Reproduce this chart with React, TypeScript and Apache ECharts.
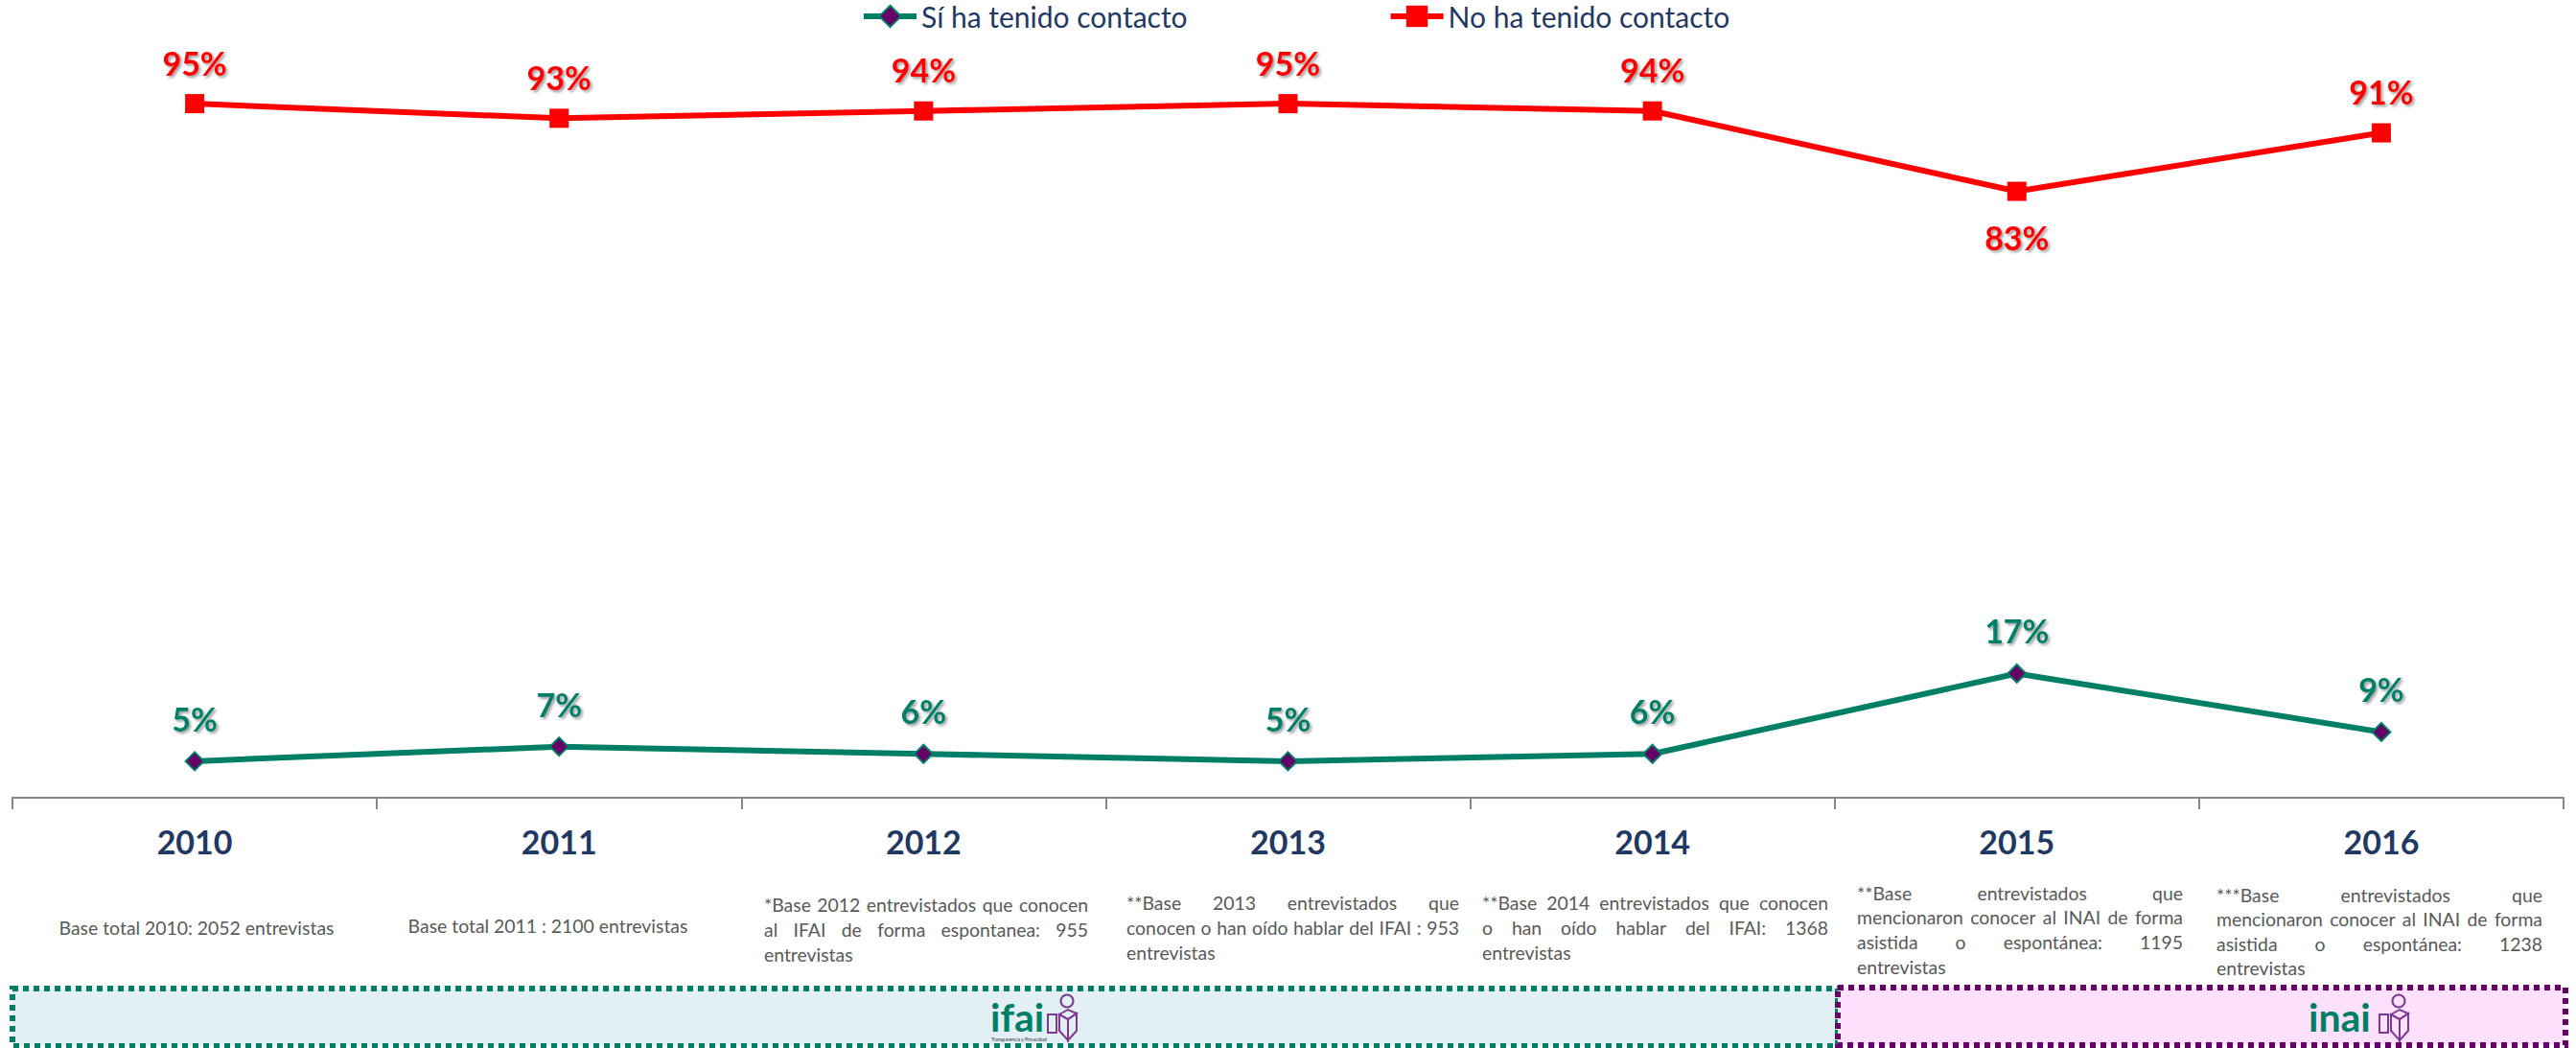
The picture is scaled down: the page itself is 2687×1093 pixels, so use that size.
import React, { useEffect, useRef } from "react";
import * as echarts from "echarts";

const years = ["2010", "2011", "2012", "2013", "2014", "2015", "2016"];
const siContacto = [5, 7, 6, 5, 6, 17, 9];
const noContacto = [95, 93, 94, 95, 94, 83, 91];
const noLabelPos = ["top", "top", "top", "top", "top", "bottom", "top"];
const notes: string[][] = [
  ["Base total 2010: 2052 entrevistas"],
  ["Base total 2011 : 2100 entrevistas"],
  ["*Base 2012 entrevistados que conocen", "al IFAI de forma espontanea: 955", "entrevistas"],
  ["**Base 2013 entrevistados que", "conocen o han oído hablar del IFAI : 953", "entrevistas"],
  ["**Base 2014 entrevistados que conocen", "o han oído hablar del IFAI: 1368", "entrevistas"],
  ["**Base entrevistados que", "mencionaron conocer al INAI de forma", "asistida o espontánea: 1195", "entrevistas"],
  ["***Base entrevistados que", "mencionaron conocer al INAI de forma", "asistida o espontánea: 1238", "entrevistas"],
];
const noteFrames = [
  { x: 62, w: 286, y: 967, center: true, lh: 26 },
  { x: 426, w: 291, y: 965, center: true, lh: 26 },
  { x: 797, w: 338, y: 943, center: false, lh: 26 },
  { x: 1175, w: 347, y: 941, center: false, lh: 26 },
  { x: 1546, w: 361, y: 941, center: false, lh: 26 },
  { x: 1937, w: 340, y: 931, center: false, lh: 25.7 },
  { x: 2312, w: 340, y: 933, center: false, lh: 25.5 },
];

const NOTE_FONT = "19.4px Lato";
const NOTE_COLOR = "#595959";
const TEAL = "#007F66";
const PURPLE = "#660066";
const LOGO = "#7B3A8F";

function measure(t: string) {
  const c = document.createElement("canvas").getContext("2d")!;
  c.font = NOTE_FONT;
  return c.measureText(t).width;
}

function noteGraphics() {
  const out: any[] = [];
  notes.forEach((lines, i) => {
    const f = noteFrames[i];
    lines.forEach((line, j) => {
      const y = f.y + j * f.lh;
      const style = { font: NOTE_FONT, fill: NOTE_COLOR, textVerticalAlign: "middle" };
      if (f.center) {
        out.push({ type: "text", x: f.x + f.w / 2, y, style: { ...style, text: line, textAlign: "center" } });
        return;
      }
      const words = line.split(" ");
      if (j === lines.length - 1 || words.length === 1) {
        out.push({ type: "text", x: f.x, y, style: { ...style, text: line, textAlign: "left" } });
        return;
      }
      const total = words.reduce((s, w) => s + measure(w), 0);
      const gap = (f.w - total) / (words.length - 1);
      let x = f.x;
      words.forEach((w) => {
        out.push({ type: "text", x, y, style: { ...style, text: w, textAlign: "left" } });
        x += measure(w) + gap;
      });
    });
  });
  return out;
}

function person(x: number, y: number) {
  const st = { stroke: LOGO, fill: "none", lineWidth: 2 };
  return [
    { type: "circle", shape: { cx: x + 20, cy: y + 7, r: 6.5 }, style: st },
    { type: "polygon", shape: { points: [[x + 12, y + 21], [x + 21, y + 16], [x + 30, y + 20], [x + 21, y + 26]] }, style: st },
    { type: "polygon", shape: { points: [[x + 21, y + 26], [x + 30, y + 20], [x + 30, y + 38], [x + 21, y + 48]] }, style: st },
    { type: "polygon", shape: { points: [[x + 12, y + 21], [x + 21, y + 26], [x + 21, y + 48], [x + 12, y + 38]] }, style: st },
    { type: "polygon", shape: { points: [[x, y + 21], [x + 9, y + 21], [x + 9, y + 40], [x, y + 40]] }, style: st },
  ];
}

const zones = [
  { x: 13, y: 1031, w: 1904, h: 60, fill: "#E2EFF5", stroke: TEAL },
  { x: 1917, y: 1030, w: 759, h: 60, fill: "#FCE0FC", stroke: PURPLE },
];

export default function App() {
  const ref = useRef<HTMLDivElement>(null);
  useEffect(() => {
    const chart = echarts.init(ref.current!, undefined, { renderer: "svg" });
    const labelFont = { fontFamily: "Lato", fontWeight: "bold" as const, fontSize: 34, textShadowColor: "rgba(0,0,0,0.4)", textShadowBlur: 3, textShadowOffsetX: 2, textShadowOffsetY: 2 };
    chart.setOption({
      animation: false,
      backgroundColor: "#fff",
      legend: {
        top: -3,
        left: 893,
        itemGap: 209,
        itemWidth: 55,
        itemHeight: 28,
        lineStyle: { width: 6 },
        textStyle: { fontFamily: "Lato", fontSize: 30, color: "#1F3864" },
        data: ["Sí ha tenido contacto", "No ha tenido contacto"],
      },
      grid: { left: 13, right: 13, top: 70, bottom: 261, containLabel: false },
      xAxis: {
        type: "category",
        data: years,
        boundaryGap: true,
        axisLine: { lineStyle: { color: "#868686", width: 2 } },
        axisTick: { show: true, length: 12, alignWithLabel: false, lineStyle: { color: "#868686", width: 2 } },
        axisLabel: { margin: 28, fontFamily: "Lato", fontWeight: "bold", fontSize: 34, color: "#1F3864" },
      },
      yAxis: { type: "value", min: 0, max: 100, show: false, splitLine: { show: false } },
      series: [
        {
          name: "Sí ha tenido contacto",
          type: "line",
          data: siContacto,
          symbol: "diamond",
          symbolSize: 19,
          itemStyle: { color: PURPLE, borderColor: TEAL, borderWidth: 2 },
          lineStyle: { color: TEAL, width: 6 },
          label: { show: true, position: "top", distance: 17, color: TEAL, formatter: "{c}%", ...labelFont },
        },
        {
          name: "No ha tenido contacto",
          type: "line",
          data: noContacto.map((v, i) => ({ value: v, label: { position: noLabelPos[i], distance: noLabelPos[i] === "top" ? 16 : 21 } })),
          symbol: "rect",
          symbolSize: 20,
          itemStyle: { color: "#FF0000" },
          lineStyle: { color: "#FF0000", width: 6 },
          label: { show: true, color: "#FF0000", formatter: "{c}%", ...labelFont },
        },
      ],
      graphic: [
        ...zones.map((z) => ({
          type: "rect", shape: { x: z.x, y: z.y, width: z.w, height: z.h },
          style: { fill: z.fill, stroke: z.stroke, lineWidth: 6, lineDash: [6, 5] },
        })),
        ...noteGraphics(),
        { type: "text", x: 1033, y: 1060, style: { text: "ifai", font: "bold 41px Lato", fill: TEAL, textVerticalAlign: "middle" } },
        { type: "text", x: 1034, y: 1084, style: { text: "Transparencia y Privacidad", font: "5px Lato", fill: "#333", textVerticalAlign: "middle" } },
        ...person(1093, 1037),
        { type: "text", x: 2408, y: 1060, style: { text: "inai", font: "bold 41px Lato", fill: TEAL, textVerticalAlign: "middle" } },
        ...person(2482, 1037),
      ],
    });
    return () => chart.dispose();
  }, []);
  return <div ref={ref} style={{ position: "fixed", left: 0, top: 0, width: 2687, height: 1093 }} />;
}
